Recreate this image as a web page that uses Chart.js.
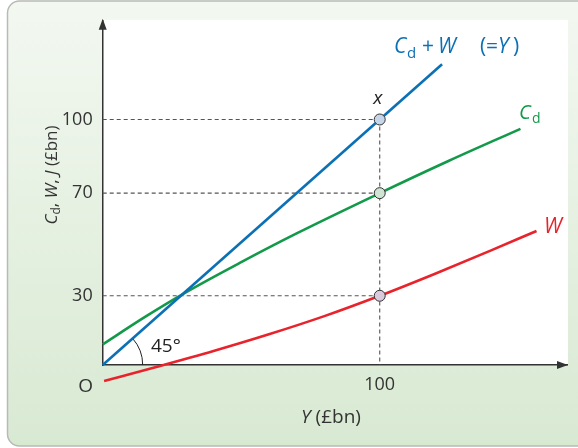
<!DOCTYPE html>
<html>
<head>
<meta charset="utf-8">
<script src="https://cdn.jsdelivr.net/npm/chart.js@4"></script>
<style>
	body { margin: 0; background: #ffffff; }
	canvas { display: block; }
</style>
</head>
<body>
<canvas id="keynesChart" width="578" height="448"></canvas>
<script>
// Values (£bn)
const xTickValues = [100]
const xTickLabels = ["100"]
const yTickValues = [28.2, 70, 100]
const yTickLabels = ["30", "70", "100"]

// Cd + W (= Y), the 45 degree line
const incomeX = [0, 122.5]
const incomeValues = [0, 122.5]

// Cd, consumption of domestic product
const cdX = [0, 15, 30, 50, 70, 100, 125, 150.8]
const cdValues = [8.4, 19.4, 29.6, 41.9, 53.6, 70, 83.2, 96.2]

// W, withdrawals
const wX = [0.5, 20, 40, 60, 80, 100, 120, 140, 156.6]
const wValues = [-6.5, -0.6, 5.7, 12.5, 19.9, 28.2, 37.2, 46.6, 54.6]

// points at Y = 100
const markerX = [100, 100, 100]
const markerValues = [100, 70, 28.2]

const BLUE = "#0b70b4"
const GREEN = "#13994a"
const RED = "#e8232b"
const INK = "#333333"
const FONT = "'Open Sans', 'Liberation Sans', sans-serif"

function toPoints(xs, ys) {
	return xs.map((x, i) => ({ x: x, y: ys[i] }))
}

function fontFor(style, size) {
	if (style === "s") return Math.round(size * 0.72) + "px " + FONT
	if (style === "i") return "italic " + size + "px " + FONT
	return size + "px " + FONT
}

// draw text made of runs: [text, style] style "i" italic, "s" subscript, "" plain
function drawRich(ctx, runs, x, y, size, color, align) {
	let total = 0
	runs.forEach((r) => {
		ctx.font = fontFor(r[1], size)
		total += ctx.measureText(r[0]).width
	})
	let cx = x
	if (align === "center") cx = x - total / 2
	if (align === "right") cx = x - total
	ctx.fillStyle = color
	ctx.textAlign = "left"
	ctx.textBaseline = "alphabetic"
	runs.forEach((r) => {
		ctx.font = fontFor(r[1], size)
		const dy = r[1] === "s" ? size * 0.22 : 0
		ctx.fillText(r[0], cx, y + dy)
		cx += ctx.measureText(r[0]).width
	})
}

// runs placed at their own x: [text, style, x]
function drawPlaced(ctx, runs, y, size, color) {
	ctx.fillStyle = color
	ctx.textAlign = "left"
	ctx.textBaseline = "alphabetic"
	runs.forEach((r) => {
		ctx.font = fontFor(r[1], size)
		const dy = r[1] === "s" ? size * 0.22 : 0
		ctx.fillText(r[0], r[2], y + dy)
	})
}

const decor = {
	id: "decor",
	beforeDraw(chart) {
		const ctx = chart.ctx
		const area = chart.chartArea
		ctx.save()
		// green panel
		const grad = ctx.createLinearGradient(0, 0, 0, 448)
		grad.addColorStop(0, "#f3f8f1")
		grad.addColorStop(1, "#d8e9d2")
		ctx.beginPath()
		ctx.roundRect(7.5, 1, 590, 445, 12)
		ctx.fillStyle = grad
		ctx.fill()
		ctx.strokeStyle = "#b7bbb7"
		ctx.lineWidth = 1.5
		ctx.stroke()
		// white plot area
		ctx.fillStyle = "#ffffff"
		ctx.fillRect(area.left, area.top - 1, area.right - area.left + 1, area.bottom - area.top + 1)
		ctx.restore()
	},
	beforeDatasetsDraw(chart) {
		const ctx = chart.ctx
		const xs = chart.scales.x
		const ys = chart.scales.y
		ctx.save()
		ctx.strokeStyle = "#555555"
		ctx.lineWidth = 1.1
		ctx.setLineDash([4, 3])
		markerValues.forEach((v, i) => {
			ctx.beginPath()
			ctx.moveTo(xs.getPixelForValue(0), ys.getPixelForValue(v))
			ctx.lineTo(xs.getPixelForValue(markerX[i]), ys.getPixelForValue(v))
			ctx.stroke()
		})
		ctx.beginPath()
		ctx.moveTo(xs.getPixelForValue(100), ys.getPixelForValue(Math.max(...markerValues)))
		ctx.lineTo(xs.getPixelForValue(100), ys.getPixelForValue(0))
		ctx.stroke()
		ctx.setLineDash([])
		// 45 degree arc
		const x0 = xs.getPixelForValue(0)
		const y0 = ys.getPixelForValue(0)
		const ang = Math.atan2(y0 - ys.getPixelForValue(100), xs.getPixelForValue(100) - x0)
		ctx.strokeStyle = "#222222"
		ctx.lineWidth = 1
		ctx.beginPath()
		ctx.arc(x0, y0, 40, -ang, 0)
		ctx.stroke()
		ctx.restore()
	},
	afterDraw(chart) {
		const ctx = chart.ctx
		const area = chart.chartArea
		const xs = chart.scales.x
		ctx.save()
		// arrow heads
		ctx.fillStyle = INK
		ctx.beginPath()
		ctx.moveTo(area.left, area.top - 2)
		ctx.lineTo(area.left - 4, area.top + 9)
		ctx.lineTo(area.left + 4, area.top + 9)
		ctx.closePath()
		ctx.fill()
		ctx.beginPath()
		ctx.moveTo(area.right + 1, area.bottom)
		ctx.lineTo(area.right - 10, area.bottom - 4)
		ctx.lineTo(area.right - 10, area.bottom + 4)
		ctx.closePath()
		ctx.fill()

		// curve labels
		drawPlaced(ctx, [["C", "i", 394], ["d", "s", 407], ["+", "", 422], ["W", "i", 438], ["(", "", 480], ["=", "", 486], ["Y", "i", 498], [")", "", 513]], 53, 21, BLUE)
		drawPlaced(ctx, [["C", "i", 519], ["d", "s", 532]], 119, 20, GREEN)
		drawPlaced(ctx, [["W", "i", 544]], 233, 21, RED)
		drawRich(ctx, [["x", "i"]], xs.getPixelForValue(100) - 2, 104, 19, "#222222", "center")
		drawRich(ctx, [["45°", ""]], 151, 352, 19, "#222222", "left")
		drawRich(ctx, [["O", ""]], xs.getPixelForValue(0) - 17, 392, 19, INK, "center")

		// axis titles
		drawRich(ctx, [["Y", "i"], [" (£bn)", ""]], 301, 423, 19, INK, "left")
		ctx.translate(56.5, 175)
		ctx.rotate(-Math.PI / 2)
		drawRich(ctx, [["C", "i"], ["d", "s"], [", ", ""], ["W", "i"], [", ", ""], ["J", "i"], [" (£bn)", ""]], 0, 0, 17, INK, "center")
		ctx.restore()
	},
}

document.addEventListener("DOMContentLoaded", function () {
	const ctx = document.getElementById("keynesChart").getContext("2d")
	new Chart(ctx, {
		type: "scatter",
		data: {
			datasets: [
				{
					label: "points",
					data: toPoints(markerX, markerValues),
					showLine: false,
					pointRadius: 5.5,
					pointBackgroundColor: ["#c6d6ea", "#cfe4d3", "#dacbdc"],
					pointBorderColor: "#333333",
					pointBorderWidth: 1,
					clip: false,
				},
				{
					label: "Cd + W (=Y)",
					data: toPoints(incomeX, incomeValues),
					showLine: true,
					borderColor: BLUE,
					borderWidth: 2.6,
					pointRadius: 0,
					clip: false,
				},
				{
					label: "Cd",
					data: toPoints(cdX, cdValues),
					showLine: true,
					borderColor: GREEN,
					borderWidth: 2.6,
					pointRadius: 0,
					cubicInterpolationMode: "monotone",
					clip: false,
				},
				{
					label: "W",
					data: toPoints(wX, wValues),
					showLine: true,
					borderColor: RED,
					borderWidth: 2.6,
					pointRadius: 0,
					cubicInterpolationMode: "monotone",
					clip: false,
				},
			],
		},
		options: {
			responsive: false,
			devicePixelRatio: 1,
			animation: false,
			events: [],
			layout: {
				padding: { top: 16, right: 11, left: 0, bottom: 0 },
			},
			plugins: {
				legend: { display: false },
				tooltip: { enabled: false },
			},
			scales: {
				x: {
					type: "linear",
					min: 0,
					max: 167.6,
					grid: { display: false, drawTicks: false },
					border: { display: true, color: INK, width: 1.5 },
					afterBuildTicks: (scale) => {
						scale.ticks = xTickValues.map((v) => ({ value: v }))
					},
					afterFit: (scale) => {
						scale.height = 83
					},
					ticks: {
						autoSkip: false,
						maxRotation: 0,
						padding: 9,
						color: INK,
						font: { family: FONT, size: 18 },
						callback: (value, index) => xTickLabels[index],
					},
				},
				y: {
					type: "linear",
					min: 0,
					max: 140.2,
					grid: { display: false, drawTicks: false },
					border: { display: true, color: INK, width: 1.5 },
					afterBuildTicks: (scale) => {
						scale.ticks = yTickValues.map((v) => ({ value: v }))
					},
					afterFit: (scale) => {
						scale.width = 102.7
					},
					ticks: {
						autoSkip: false,
						padding: 10,
						color: INK,
						font: { family: FONT, size: 18 },
						callback: (value, index) => yTickLabels[index],
					},
				},
			},
		},
		plugins: [decor],
	})
})
</script>
</body>
</html>
